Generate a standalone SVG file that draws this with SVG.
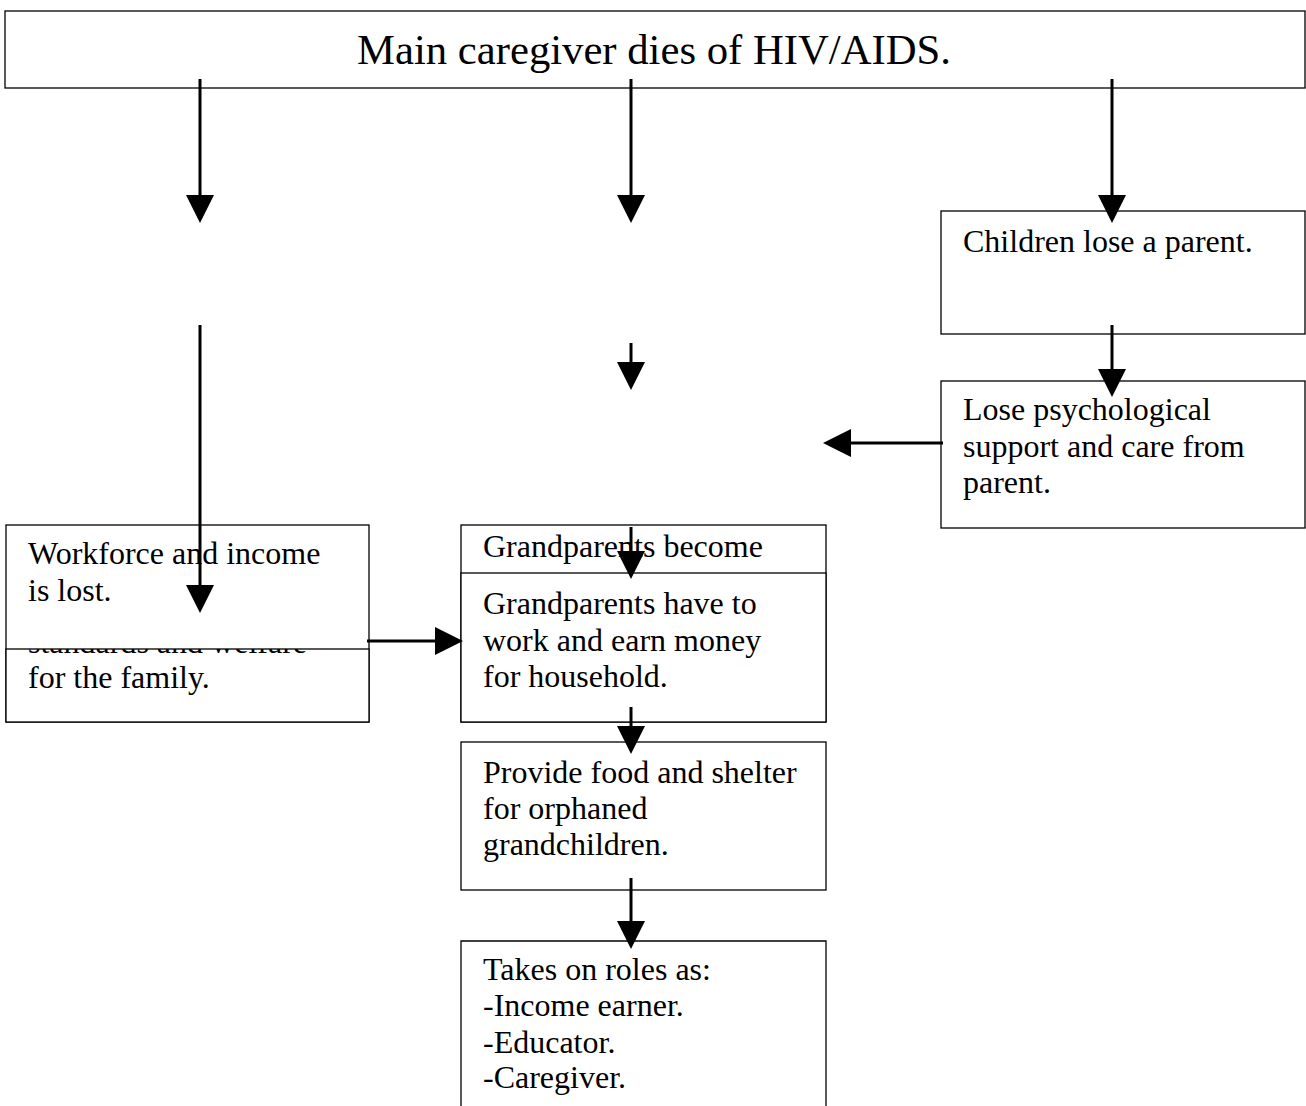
<svg xmlns="http://www.w3.org/2000/svg" width="1306" height="1106" viewBox="0 0 1306 1106">
<style>
.box{fill:#fff;stroke:#000;stroke-width:1.3}
.t{font-family:"Liberation Serif","Times New Roman",serif;font-size:32px;fill:#000}
.title{font-family:"Liberation Serif","Times New Roman",serif;font-size:42.7px;fill:#000;text-anchor:middle}
.arr{stroke:#000;stroke-width:3;fill:none;marker-end:url(#ah)}
</style>
<defs>
<marker id="ah" markerUnits="userSpaceOnUse" markerWidth="28" markerHeight="28" refX="0" refY="14" orient="auto" viewBox="0 0 28 28">
<path d="M0,0 L28,14 L0,28 Z" fill="#000"/>
</marker>
<clipPath id="clipL"><rect x="6" y="649" width="363" height="73"/></clipPath>
</defs>
<rect x="0" y="0" width="1306" height="1106" fill="#fff"/>
<g id="n-top">
<rect class="box" x="5" y="11" width="1300" height="77"/>
<text class="title" x="654" y="64">Main caregiver dies of HIV/AIDS.</text>
</g>
<g id="n-children">
<rect class="box" x="941" y="211" width="364" height="123"/>
<text class="t" x="963" y="252">Children lose a parent.</text>
</g>
<g id="n-psych">
<rect class="box" x="941" y="381" width="364" height="147"/>
<text class="t" x="963" y="420">Lose psychological</text>
<text class="t" x="963" y="457">support and care from</text>
<text class="t" x="963" y="493">parent.</text>
</g>
<g id="n-workforce">
<rect class="box" x="6" y="525" width="363" height="197"/>
<text class="t" x="28" y="564">Workforce and income</text>
<text class="t" x="28" y="601">is lost.</text>
</g>
<g id="n-standards">
<rect class="box" x="6" y="649" width="363" height="73"/>
<text class="t" x="28" y="653" clip-path="url(#clipL)">standards and welfare</text>
<text class="t" x="28" y="688">for the family.</text>
</g>
<g id="n-become">
<rect class="box" x="461" y="525" width="365" height="197"/>
<text class="t" x="483" y="557">Grandparents become</text>
</g>
<g id="n-work">
<rect class="box" x="461" y="573" width="365" height="149"/>
<text class="t" x="483" y="614">Grandparents have to</text>
<text class="t" x="483" y="651">work and earn money</text>
<text class="t" x="483" y="687">for household.</text>
</g>
<g id="n-provide">
<rect class="box" x="461" y="742" width="365" height="148"/>
<text class="t" x="483" y="783">Provide food and shelter</text>
<text class="t" x="483" y="819">for orphaned</text>
<text class="t" x="483" y="855">grandchildren.</text>
</g>
<g id="n-roles">
<path d="M461,1106 V941 H826 V1106" fill="#fff" stroke="#000" stroke-width="1.3"/>
<text class="t" x="483" y="980">Takes on roles as:</text>
<text class="t" x="483" y="1016">-Income earner.</text>
<text class="t" x="483" y="1053">-Educator.</text>
<text class="t" x="483" y="1088">-Caregiver.</text>
</g>
<g id="connectors">
<path class="arr" d="M200,79 V195"/>
<path class="arr" d="M631,79 V195"/>
<path class="arr" d="M1112,79 V195"/>
<path class="arr" d="M1112,325 V369"/>
<path class="arr" d="M631,343 V362"/>
<path class="arr" d="M943,443 H851"/>
<path class="arr" d="M200,325 V585"/>
<path class="arr" d="M631,527 V551"/>
<path class="arr" d="M367,641 H435"/>
<path class="arr" d="M631,707 V726"/>
<path class="arr" d="M631,878 V921"/>
</g>
</svg>
